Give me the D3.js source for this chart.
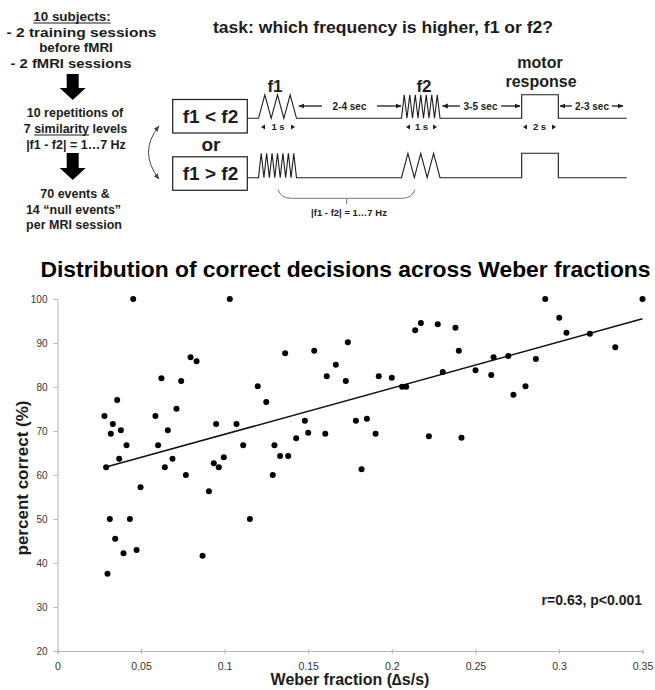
<!DOCTYPE html>
<html>
<head>
<meta charset="utf-8">
<script src="https://cdn.jsdelivr.net/npm/d3@7"></script>
<style>
  html, body { margin: 0; padding: 0; background: #fff; }
  svg { display: block; }
  text { font-family: "Liberation Sans", Arial, sans-serif; }
</style>
</head>
<body>
<svg id="chart" width="655" height="690"></svg>
<script>
// ---------------- DATA ----------------
const weber = [
  0.0453, 0.1031, 0.0796, 0.0832, 0.0622, 0.0740, 0.1198, 0.0357, 0.0712, 0.0281,
  0.0586, 0.0331, 0.0949, 0.1071, 0.0319, 0.0379, 0.0660, 0.0413, 0.0602, 0.1111,
  0.0369, 0.0291, 0.0688, 0.0642, 0.0935, 0.0965, 0.0995, 0.0768, 0.0497, 0.0906,
  0.1249, 0.1362, 0.1536, 0.1737, 0.1665, 0.1611, 0.1725, 0.1922, 0.2000, 0.2062,
  0.2086, 0.2140, 0.2174, 0.2275, 0.2305, 0.1480, 0.1500, 0.1428, 0.1602, 0.1785,
  0.1851, 0.1903, 0.2222, 0.1298, 0.1332, 0.1380, 0.1288, 0.1819,
  0.2381, 0.2918, 0.3500, 0.3002, 0.3045, 0.3185, 0.3337, 0.2401, 0.2501, 0.2595,
  0.2609, 0.2697, 0.2862, 0.2800, 0.2728, 0.2417,
  0.0313, 0.0433, 0.1151, 0.0345, 0.0395, 0.0473, 0.0868, 0.0299
];
const percentCorrect = [
  100.0, 100.0, 86.75, 85.84, 81.98, 81.36, 80.16, 77.05, 75.07, 73.41,
  73.41, 71.59, 71.59, 71.59, 69.39, 70.16, 70.16, 66.75, 66.75, 66.75,
  63.70, 61.75, 63.70, 61.75, 62.66, 61.75, 64.02, 60.00, 57.20, 56.30,
  76.59, 87.66, 88.25, 90.16, 85.07, 82.43, 81.36, 82.43, 82.11, 80.07,
  80.07, 92.89, 94.55, 94.25, 83.41, 72.34, 69.61, 68.34, 69.39, 72.34,
  72.80, 69.39, 68.80, 66.75, 64.32, 64.32, 60.00, 61.30,
  93.48, 100.0, 100.0, 95.75, 92.34, 92.11, 89.02, 88.25, 83.80, 82.73,
  86.75, 87.05, 86.36, 80.16, 78.25, 68.48,
  50.00, 50.00, 50.00, 45.52, 42.20, 42.95, 41.66, 37.57
];
// regression line end points
const trendX = [0.029, 0.35];
const trendY = [61.8, 95.5];

const xTicks = [0, 0.05, 0.1, 0.15, 0.2, 0.25, 0.3, 0.35];
const yTicks = [20, 30, 40, 50, 60, 70, 80, 90, 100];

const chartTitle = "Distribution of correct decisions across Weber fractions";
const xLabel = "Weber fraction (\u2206s/s)";
const yLabel = "percent correct (%)";
const statsLabel = "r=0.63, p<0.001";

// left column text of the design panel
const designLines = [
  {t: "10 subjects:", x: 72, y: 20.5, s: 13.4, u: true},
  {t: "- 2 training sessions", x: 81.5, y: 36.5, s: 13.4, w: 150},
  {t: "before fMRI", x: 76, y: 51.5, s: 13.4},
  {t: "- 2 fMRI sessions", x: 71, y: 67.5, s: 13.4, w: 121},
  {t: "10 repetitions of", x: 75, y: 116.5, s: 12.5},
  {t: "7 similarity levels", x: 75.5, y: 132.5, s: 12.5, us: [2, 12]},
  {t: "|f1 - f2| =  1\u20267 Hz", x: 76, y: 148.5, s: 12.5},
  {t: "70 events &", x: 75, y: 197.5, s: 12.5},
  {t: "14 \u201cnull events\u201d", x: 73.5, y: 213.5, s: 12.5},
  {t: "per MRI session", x: 74, y: 228.5, s: 12.5}
];
const bigArrows = [[74, 100], [153, 180]];

// timeline stimuli: [x0, x1, number of peaks] for each row
const upperStimuli = [[258.5, 296.5, 3], [401.5, 440, 7]];
const lowerStimuli = [[258.5, 296.5, 7], [401.5, 440, 3]];
const intervals = [
  {x0: 299, x1: 401, label: "2-4 sec", gap: [322, 377]},
  {x0: 442.5, x1: 520, label: "3-5 sec", gap: [460, 501]},
  {x0: 560, x1: 623, label: "2-3 sec", gap: [572, 612]}
];
const durations = [
  {x0: 261, x1: 295, label: "1 s"},
  {x0: 406, x1: 437, label: "1 s"},
  {x0: 523, x1: 556, label: "2 s"}
];

// ---------------- DRAW ----------------
const svg = d3.select("#chart");
const ink = "#1c1c1c";

// markers
const defs = svg.append("defs");
defs.append("marker").attr("id", "ah").attr("viewBox", "0 0 10 10")
  .attr("refX", 9).attr("refY", 5).attr("markerWidth", 6).attr("markerHeight", 6)
  .attr("markerUnits", "userSpaceOnUse").attr("orient", "auto-start-reverse")
  .append("path").attr("d", "M0,1 L10,5 L0,9 Z").attr("fill", ink);
defs.append("marker").attr("id", "ahg").attr("viewBox", "0 0 10 10")
  .attr("refX", 9).attr("refY", 5).attr("markerWidth", 6).attr("markerHeight", 6)
  .attr("markerUnits", "userSpaceOnUse").attr("orient", "auto-start-reverse")
  .append("path").attr("d", "M0,1 L10,5 L0,9 Z").attr("fill", "#444");

// ---- left design column
const left = svg.append("g");
designLines.forEach(d => {
  const t = left.append("text").attr("x", d.x).attr("y", d.y).attr("text-anchor", "middle")
    .attr("font-size", d.s).attr("font-weight", "bold").attr("fill", ink).text(d.t);
  if (d.w) t.attr("textLength", d.w).attr("lengthAdjust", "spacingAndGlyphs");
  const node = t.node();
  if (d.u) {
    const bb = node.getBBox();
    left.append("line").attr("x1", bb.x).attr("x2", bb.x + bb.width)
      .attr("y1", d.y + 2.5).attr("y2", d.y + 2.5).attr("stroke", ink).attr("stroke-width", 1);
  }
  if (d.us) {
    const s = node.getStartPositionOfChar(d.us[0]).x;
    const e = node.getEndPositionOfChar(d.us[1] - 1).x;
    left.append("line").attr("x1", s).attr("x2", e)
      .attr("y1", d.y + 2.5).attr("y2", d.y + 2.5).attr("stroke", ink).attr("stroke-width", 1);
  }
});
bigArrows.forEach(([y0, y1]) => {
  const cx = 72.7, hs = 12, hw = 13, sw = 6;
  const yh = y1 - hs;
  left.append("path")
    .attr("d", `M${cx - sw},${y0} L${cx + sw},${y0} L${cx + sw},${yh} L${cx + hw},${yh} L${cx},${y1} L${cx - hw},${yh} L${cx - sw},${yh} Z`)
    .attr("fill", "#000");
});
// curved double arrow
left.append("path").attr("d", "M159,126 Q138,152 159,179")
  .attr("fill", "none").attr("stroke", "#444").attr("stroke-width", 1)
  .attr("marker-start", "url(#ahg)").attr("marker-end", "url(#ahg)");

// ---- task title
svg.append("text").attr("x", 383).attr("y", 33).attr("text-anchor", "middle")
  .attr("font-size", 16).attr("font-weight", "bold").attr("fill", ink)
  .attr("textLength", 340).attr("lengthAdjust", "spacingAndGlyphs")
  .text("task: which frequency is higher, f1 or f2?");

// boxes
const boxes = [{y: 99.5, t: "f1 < f2"}, {y: 156.8, t: "f1 > f2"}];
boxes.forEach(b => {
  svg.append("rect").attr("x", 172.7).attr("y", b.y).attr("width", 74.6).attr("height", 33.5)
    .attr("fill", "#fff").attr("stroke", ink).attr("stroke-width", 1.2);
  svg.append("text").attr("x", 210.5).attr("y", b.y + 23).attr("text-anchor", "middle")
    .attr("font-size", 19).attr("font-weight", "bold").attr("fill", ink).text(b.t);
});
svg.append("text").attr("x", 211).attr("y", 151).attr("text-anchor", "middle")
  .attr("font-size", 19).attr("font-weight", "bold").attr("fill", ink).text("or");

// timelines
function timelinePath(base, top, stimuli, pulse) {
  const pts = [[247.3, base]];
  stimuli.forEach(([x0, x1, n]) => {
    pts.push([x0, base]);
    const w = (x1 - x0) / n;
    for (let i = 0; i < n; i++) {
      pts.push([x0 + (i + 0.5) * w, top]);
      pts.push([x0 + (i + 1) * w, base]);
    }
  });
  pts.push([pulse[0], base], [pulse[0], top], [pulse[1], top], [pulse[1], base], [626.7, base]);
  return d3.line()(pts);
}
svg.append("path").attr("d", timelinePath(118.3, 94.8, upperStimuli, [521.7, 558.3]))
  .attr("fill", "none").attr("stroke", ink).attr("stroke-width", 1.1);
svg.append("path").attr("d", timelinePath(177.7, 153.3, lowerStimuli, [521.7, 558.3]))
  .attr("fill", "none").attr("stroke", ink).attr("stroke-width", 1.1);

// stimulus labels
[{t: "f1", x: 275, y: 92, s: 17}, {t: "f2", x: 424, y: 92, s: 17},
 {t: "motor", x: 540, y: 68, s: 16}, {t: "response", x: 541, y: 87, s: 16}].forEach(d => {
  svg.append("text").attr("x", d.x).attr("y", d.y).attr("text-anchor", "middle")
    .attr("font-size", d.s).attr("font-weight", "bold").attr("fill", ink).text(d.t);
});

// intervals with arrows
intervals.forEach(d => {
  const y = 106;
  svg.append("line").attr("x1", d.gap[0]).attr("x2", d.x0).attr("y1", y).attr("y2", y)
    .attr("stroke", ink).attr("stroke-width", 1.3).attr("marker-end", "url(#ah)");
  svg.append("line").attr("x1", d.gap[1]).attr("x2", d.x1).attr("y1", y).attr("y2", y)
    .attr("stroke", ink).attr("stroke-width", 1.3).attr("marker-end", "url(#ah)");
  svg.append("text").attr("x", (d.gap[0] + d.gap[1]) / 2).attr("y", y + 3.5)
    .attr("text-anchor", "middle").attr("font-size", 10).attr("font-weight", "bold")
    .attr("fill", ink).text(d.label);
});
// durations with tiny triangles
durations.forEach(d => {
  const y = 127;
  svg.append("path").attr("d", `M${d.x0},${y} L${d.x0 + 4},${y - 2.5} L${d.x0 + 4},${y + 2.5} Z`).attr("fill", ink);
  svg.append("path").attr("d", `M${d.x1},${y} L${d.x1 - 4},${y - 2.5} L${d.x1 - 4},${y + 2.5} Z`).attr("fill", ink);
  svg.append("text").attr("x", (d.x0 + d.x1) / 2).attr("y", y + 3.4)
    .attr("text-anchor", "middle").attr("font-size", 9.5).attr("font-weight", "bold")
    .attr("fill", ink).text(d.label);
});
// brace
svg.append("path").attr("d", "M278,189.5 Q281,198.3 291,198.3 L402,198.3 Q412,198.3 415,189.5 M346.7,198.3 L346.7,204")
  .attr("fill", "none").attr("stroke", "#777").attr("stroke-width", 1);
svg.append("text").attr("x", 349).attr("y", 215.5).attr("text-anchor", "middle")
  .attr("font-size", 9.5).attr("font-weight", "bold").attr("fill", ink)
  .text("|f1 - f2| =  1\u20267 Hz");

// ---------------- SCATTER ----------------
const x = d3.scaleLinear().domain([0, 0.35]).range([57.5, 642.5]);
const y = d3.scaleLinear().domain([20, 100]).range([651, 299]);

svg.append("text").attr("x", 345.5).attr("y", 277).attr("text-anchor", "middle")
  .attr("font-size", 22).attr("font-weight", "bold").attr("fill", "#000")
  .attr("textLength", 610).attr("lengthAdjust", "spacingAndGlyphs").text(chartTitle);

const axisColor = "#b5b5b5";
const gx = svg.append("g").attr("transform", `translate(0,${y(20)})`)
  .call(d3.axisBottom(x).tickValues(xTicks).tickFormat(d => d3.format("")(d)).tickSize(3).tickPadding(9));
gx.select(".domain").attr("stroke", axisColor);
gx.selectAll(".tick line").attr("stroke", axisColor).attr("y1", -2);
gx.selectAll(".tick text").attr("font-size", 10.5).attr("fill", "#333")
  .attr("font-family", "'Liberation Sans', Arial, sans-serif");

const gy = svg.append("g").attr("transform", `translate(${x(0)},0)`)
  .call(d3.axisLeft(y).tickValues(yTicks).tickSize(4).tickPadding(6));
gy.select(".domain").attr("stroke", axisColor);
gy.selectAll(".tick line").attr("stroke", axisColor);
gy.selectAll(".tick text").attr("font-size", 10).attr("fill", "#333")
  .attr("font-family", "'Liberation Sans', Arial, sans-serif");

// trend line
svg.append("path")
  .attr("d", d3.line().x(d => x(d[0])).y(d => y(d[1]))(trendX.map((v, i) => [v, trendY[i]])))
  .attr("stroke", "#111").attr("stroke-width", 1.5).attr("fill", "none");

// points
svg.append("g").selectAll("circle").data(weber.map((w, i) => [w, percentCorrect[i]]))
  .join("circle").attr("cx", d => x(d[0])).attr("cy", d => y(d[1])).attr("r", 3)
  .attr("fill", "#000");

svg.append("text").attr("x", 642).attr("y", 605).attr("text-anchor", "end")
  .attr("font-size", 14).attr("font-weight", "bold").attr("fill", ink).text(statsLabel);

svg.append("text").attr("x", 350).attr("y", 685).attr("text-anchor", "middle")
  .attr("font-size", 16).attr("font-weight", "bold").attr("fill", ink).text(xLabel);

svg.append("text").attr("transform", `translate(27.5,${(y(20) + y(100)) / 2 + 3}) rotate(-90)`)
  .attr("text-anchor", "middle").attr("font-size", 17).attr("font-weight", "bold")
  .attr("fill", ink).text(yLabel);
</script>
</body>
</html>
